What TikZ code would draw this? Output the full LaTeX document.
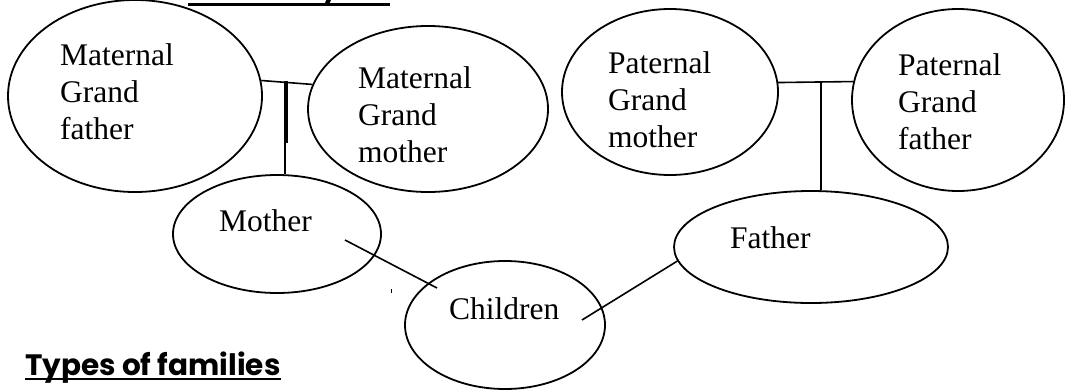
\documentclass[tikz,border=0pt]{standalone}
\usepackage{fontspec}
\setmainfont{Liberation Serif}
\newfontfamily\headfont{Poppins}
\usetikzlibrary{shapes.geometric}

\tikzset{%
          every person/.style={
            ellipse,
            draw,
            line width=1.8pt,
            inner sep=0pt
          },
          person label/.style={
            anchor=base west,
            align=left,
            inner sep=0pt,
            font=\fontsize{31.5}{37}\selectfont
          },
          family line/.style={
            draw,
            line width=1.6pt
          },
        }

\begin{document}
\begin{tikzpicture}[x=1pt, y=-1pt]
        \path [fill=white, use as bounding box] (0,0) rectangle (1091,391);

        \node [every person, minimum width=254pt, minimum height=192pt] (maternal-grandfather) at (135,96) {};
        \node [every person, minimum width=240pt, minimum height=166pt] (maternal-grandmother) at (428,109) {};
        \node [every person, minimum width=216pt, minimum height=166pt] (paternal-grandmother) at (670,92) {};
        \node [every person, minimum width=212pt, minimum height=182pt] (paternal-grandfather) at (958,100) {};
        \node [every person, minimum width=208pt, minimum height=118pt] (mother) at (277,234) {};
        \node [every person, minimum width=274pt, minimum height=112pt] (father) at (811,247) {};
        \node [every person, minimum width=200pt, minimum height=128pt] (children) at (505,325) {};

        % multi-line labels sit on the baseline of their last line
        \node [person label] (maternal-grandfather-text) at (60,139) {Maternal\\Grand\\father};
        \node [person label] (maternal-grandmother-text) at (358,162) {Maternal\\Grand\\mother};
        \node [person label] (paternal-grandmother-text) at (608,147) {Paternal\\Grand\\mother};
        \node [person label] (paternal-grandfather-text) at (898,149) {Paternal\\Grand\\father};
        \node [person label] (mother-text) at (219,231) {Mother};
        \node [person label] (father-text) at (730,248) {Father};
        \node [person label] (children-text) at (449,319) {Children};

        \coordinate (maternal-bar) at (285,81);
        \coordinate (paternal-bar) at (821,82);
        \coordinate (mother-end) at (345,240);
        \coordinate (children-left) at (437,288);
        \coordinate (children-right) at (582,320);

        \path [family line] (maternal-grandfather.7) -- (maternal-grandmother.168);
        \path [family line] (maternal-bar) -- (maternal-bar |- mother.north);
        \path [family line] ([xshift=2pt]maternal-bar) -- ++(0,62);

        \path [family line] (paternal-grandmother.5) -- (paternal-grandfather.170);
        \path [family line] (paternal-bar) -- (paternal-bar |- father.north);

        \path [family line] (mother-end) -- (children-left);
        \path [family line] (children-right) -- (father.186);
        \path [draw, line width=1pt] (391,289) -- (391,293);

        \node [anchor=base west, inner sep=0pt, font=\headfont\bfseries\fontsize{27}{32}\selectfont] (tree-title) at (192,-1.5) {The family tree};
        \path [draw, line width=3pt] (188,4.5) -- (390,4.5);

        \node [anchor=base west, inner sep=0pt, font=\headfont\bfseries\fontsize{29.5}{34}\selectfont] (types-heading) at (25,375) {Types of families};
        \path [draw, line width=2pt] (types-heading.base west) ++(0,4) -- ([yshift=-4pt]types-heading.base east);

        \node [anchor=base west, inner sep=0pt, font=\headfont\fontsize{29}{34}\selectfont] (nuclear-item) at (64,417) {1.\hspace{14pt}Nuclear family};
\end{tikzpicture}
\end{document}
